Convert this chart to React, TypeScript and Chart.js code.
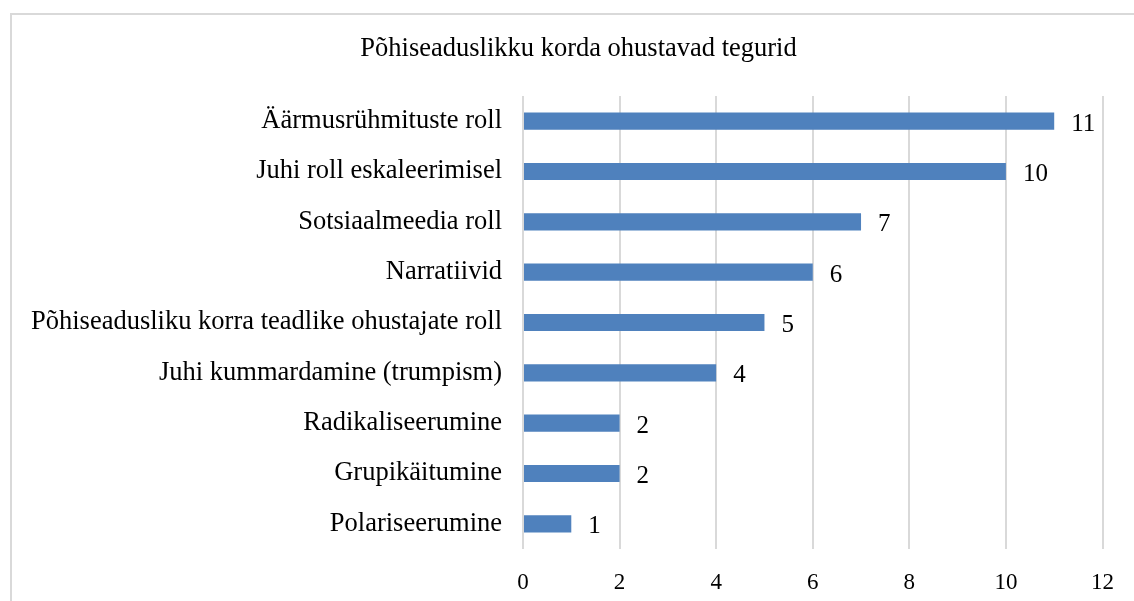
import React, { useEffect, useRef } from "react";
import { Chart, registerables } from "chart.js";

Chart.register(...registerables);

const titleText = "Põhiseaduslikku korda ohustavad tegurid";
const categories = [
  "Äärmusrühmituste roll",
  "Juhi roll eskaleerimisel",
  "Sotsiaalmeedia roll",
  "Narratiivid",
  "Põhiseadusliku korra teadlike ohustajate roll",
  "Juhi kummardamine (trumpism)",
  "Radikaliseerumine",
  "Grupikäitumine",
  "Polariseerumine",
];
const values = [11, 10, 7, 6, 5, 4, 2, 2, 1];
const xMin = 0;
const xMax = 12;
const xStep = 2;

const FONT = "'Liberation Serif', 'DejaVu Serif', serif";
// the chart frame is wider than the visible window; the title is centred on the frame
const FRAME_LEFT = 10;
const FRAME_RIGHT = 1147;

const valueLabels = {
  id: "valueLabels",
  afterDatasetsDraw(chart: any) {
    const ctx = chart.ctx;
    const meta = chart.getDatasetMeta(0);
    ctx.save();
    ctx.font = `25px ${FONT}`;
    ctx.fillStyle = "#000";
    ctx.textAlign = "left";
    ctx.textBaseline = "middle";
    meta.data.forEach((el: any, i: number) => {
      ctx.fillText(String(values[i]), el.x + 17, el.y + 3);
    });
    ctx.restore();
  },
};

const frameTitle = {
  id: "frameTitle",
  afterDraw(chart: any) {
    const ctx = chart.ctx;
    ctx.save();
    ctx.font = `26.5px ${FONT}`;
    ctx.fillStyle = "#000";
    ctx.textAlign = "center";
    ctx.textBaseline = "middle";
    ctx.fillText(titleText, (FRAME_LEFT + FRAME_RIGHT) / 2, chart.chartArea.top - 47);
    ctx.restore();
  },
};

export default function App() {
  const ref = useRef<HTMLCanvasElement>(null);
  useEffect(() => {
    if (!ref.current) return;
    const chart = new Chart(ref.current, {
      type: "bar",
      data: {
        labels: categories,
        datasets: [
          {
            data: values,
            backgroundColor: "#4F81BD",
            borderWidth: 0,
            barPercentage: 0.68,
            categoryPercentage: 0.5,
          },
        ],
      },
      options: {
        indexAxis: "y",
        animation: false,
        responsive: false,
        maintainAspectRatio: false,
        layout: { padding: { left: 10, right: 31, top: 96, bottom: 0 } },
        plugins: {
          legend: { display: false },
          tooltip: { enabled: false },
          title: { display: false },
        },
        scales: {
          x: {
            min: xMin,
            max: xMax,
            ticks: {
              stepSize: xStep,
              color: "#000",
              padding: 20,
              font: { family: FONT, size: 23 },
            },
            grid: { color: "#d9d9d9", lineWidth: 2, drawTicks: false },
            border: { display: false },
            afterFit(scale: any) {
              scale.height = 52;
            },
          },
          y: {
            ticks: {
              color: "#000",
              padding: 21,
              font: { family: FONT, size: 26.5 },
            },
            grid: { display: false, drawTicks: false },
            border: { display: false },
            afterFit(scale: any) {
              scale.width = 513;
            },
          },
        },
      },
      plugins: [valueLabels, frameTitle],
    });
    return () => chart.destroy();
  }, []);
  return (
    <div
      style={{
        position: "fixed",
        left: 0,
        top: 0,
        width: 1134,
        height: 601,
        overflow: "hidden",
        background: "#fff",
      }}
    >
      <div
        style={{
          position: "absolute",
          left: FRAME_LEFT,
          top: 13,
          width: 1200,
          height: 700,
          border: "2px solid #d9d9d9",
          boxSizing: "border-box",
        }}
      />
      <canvas
        ref={ref}
        width={1134}
        height={601}
        style={{ position: "absolute", left: 0, top: 0 }}
      />
    </div>
  );
}
